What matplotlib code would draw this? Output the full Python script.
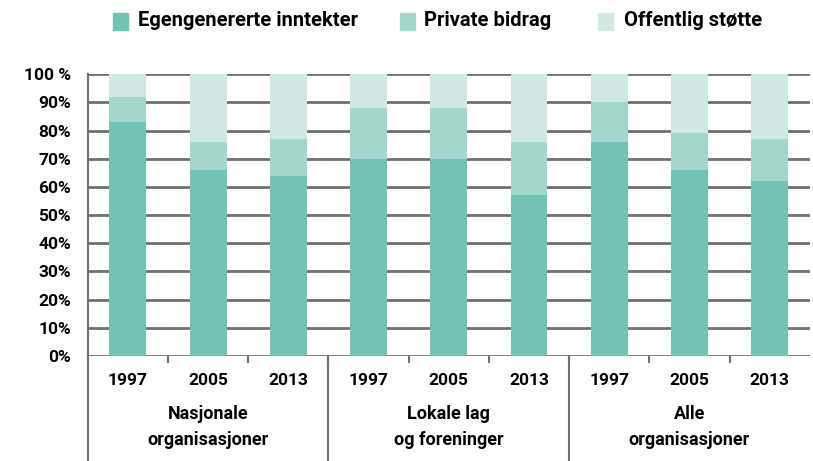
import matplotlib
matplotlib.use("Agg")
import matplotlib.pyplot as plt
from matplotlib.transforms import blended_transform_factory
from matplotlib.lines import Line2D
from matplotlib.patches import Rectangle

groups = ["Nasjonale\norganisasjoner", "Lokale lag\nog foreninger", "Alle\norganisasjoner"]
years = ["1997", "2005", "2013"]
egen = [83, 66, 64, 70, 70, 57, 76, 66, 62]
private = [9, 10, 13, 18, 18, 19, 14, 13, 15]
offentlig = [8, 24, 23, 12, 12, 24, 10, 21, 23]
series_names = ["Egengenererte inntekter", "Private bidrag", "Offentlig støtte"]
colors = ["#72C3B4", "#A4D7CB", "#CFE8E4"]
yticklabels = ["0%", "10%", "20%", "30%", "40%", "50%", "60%", "70%", "80%", "90%", "100 %"]

plt.rcParams['font.family'] = ['Roboto', 'DejaVu Sans']
plt.rcParams['font.weight'] = 'bold'
W = 'bold'

FW, FH = 813, 461
fig = plt.figure(figsize=(8.13, 4.61), dpi=100)
ax = fig.add_axes([0.108, 0.228, 0.888, 0.611])

n = len(egen)
x = list(range(n))
w = 0.46
ax.bar(x, egen, width=w, color=colors[0], zorder=3)
ax.bar(x, private, width=w, bottom=egen, color=colors[1], zorder=3)
bottom3 = [e + p for e, p in zip(egen, private)]
ax.bar(x, offentlig, width=w, bottom=bottom3, color=colors[2], zorder=3)

ax.set_xlim(-0.5, n - 0.5)
ax.set_ylim(0, 100)
ax.set_yticks(range(0, 101, 10))
ax.set_yticklabels(yticklabels, fontsize=12.5, fontweight=W)
ax.yaxis.grid(True, color="#707070", linewidth=2, zorder=0)
ax.tick_params(axis='y', length=0, pad=12)

ax.set_xticks(x)
ax.set_xticklabels(years * 3, fontsize=12.5, fontweight=W)
ax.tick_params(axis='x', length=0, pad=12)
ax.set_xticks([i + 0.5 for i in range(n - 1)], minor=True)
ax.tick_params(axis='x', which='minor', length=5, color="#707070", width=1.5)

for s in ['top', 'right', 'bottom']:
    ax.spines[s].set_visible(False)
ax.spines['left'].set_color("#707070")
ax.spines['left'].set_linewidth(1.5)
ax.spines['left'].set_bounds(0, 100)

trans = blended_transform_factory(ax.transData, ax.transAxes)
for sep in [-0.5, 2.5, 5.5]:
    ax.add_line(Line2D([sep, sep], [0, -0.38], transform=trans, color="#707070",
                       linewidth=1.5, clip_on=False))
for gi, g in enumerate(groups):
    ax.text(gi * 3 + 1, -0.175, g, transform=trans, ha='center', va='top',
            fontsize=13, fontweight=W, linespacing=1.55)

# legend (manual, for reliable bold text)
leg_marker_x = [113, 400, 598]
leg_text_x = [138, 424, 624]
for name, c, mx, tx in zip(series_names, colors, leg_marker_x, leg_text_x):
    fig.patches.append(Rectangle((mx / FW, 1 - 30 / FH), 15 / FW, 17 / FH,
                                 transform=fig.transFigure, color=c, figure=fig))
    fig.text(tx / FW, 1 - 21 / FH, name, ha='left', va='center',
             fontsize=14.5, fontweight='bold', family=['Roboto', 'DejaVu Sans'])

fig.savefig("out.png", dpi=100)
